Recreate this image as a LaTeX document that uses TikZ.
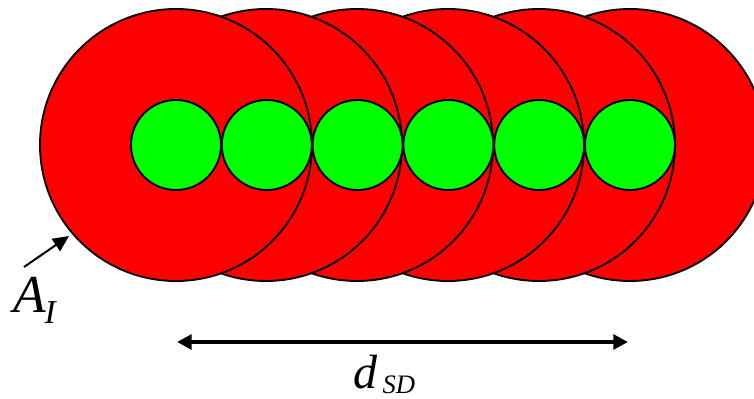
\documentclass[tikz,border=0pt]{standalone}
\usepackage{fontspec}
\setmainfont{Liberation Serif}
\usetikzlibrary{arrows.meta}
\begin{document}
\begin{tikzpicture}[x=0.75pt,y=-0.75pt,
  bigdisk/.style={circle,draw=black,fill=red,line width=1.4pt,minimum size=272*0.75pt,inner sep=0pt},
  smalldisk/.style={circle,draw=black,fill=green,line width=1.4pt,minimum size=90*0.75pt,inner sep=0pt},
  label/.style={inner sep=0pt,font=\itshape}]
\useasboundingbox (0,0) rectangle (754,399);
\begin{scope}
\clip (0,0) rectangle (754,399);
\foreach \i/\x in {6/630,5/539,4/448,3/357,2/266,1/176}{
  \node[bigdisk] (red\i) at (\x,145) {};
}
\foreach \i/\x in {1/176,2/266.8,3/357.6,4/448.4,5/539.2,6/630}{
  \node[smalldisk] (green\i) at (\x,145) {};
}
\end{scope}
\coordinate (aistart) at (24,267);
\coordinate (aitip) at (69,236);
\draw[line width=1.5pt,-{Triangle[length=12pt,width=11pt]}] (aistart) -- (aitip);
\coordinate (dleft) at (177,342);
\coordinate (dright) at (628,342);
\draw[line width=3pt,{Triangle[length=11pt,width=11pt]}-{Triangle[length=11pt,width=11pt]}] (dleft) -- (dright);
\node[label,anchor=base west] (ai) at (13,312) {\fontsize{40}{40}\selectfont A\kern-1pt\raisebox{-8.5pt}{\fontsize{25}{25}\selectfont I}};
\node[label,anchor=base west] (dsd) at (353,388) {\fontsize{36}{36}\selectfont d\kern4pt\raisebox{-4pt}{\fontsize{20}{20}\selectfont SD}};
\end{tikzpicture}
\end{document}
